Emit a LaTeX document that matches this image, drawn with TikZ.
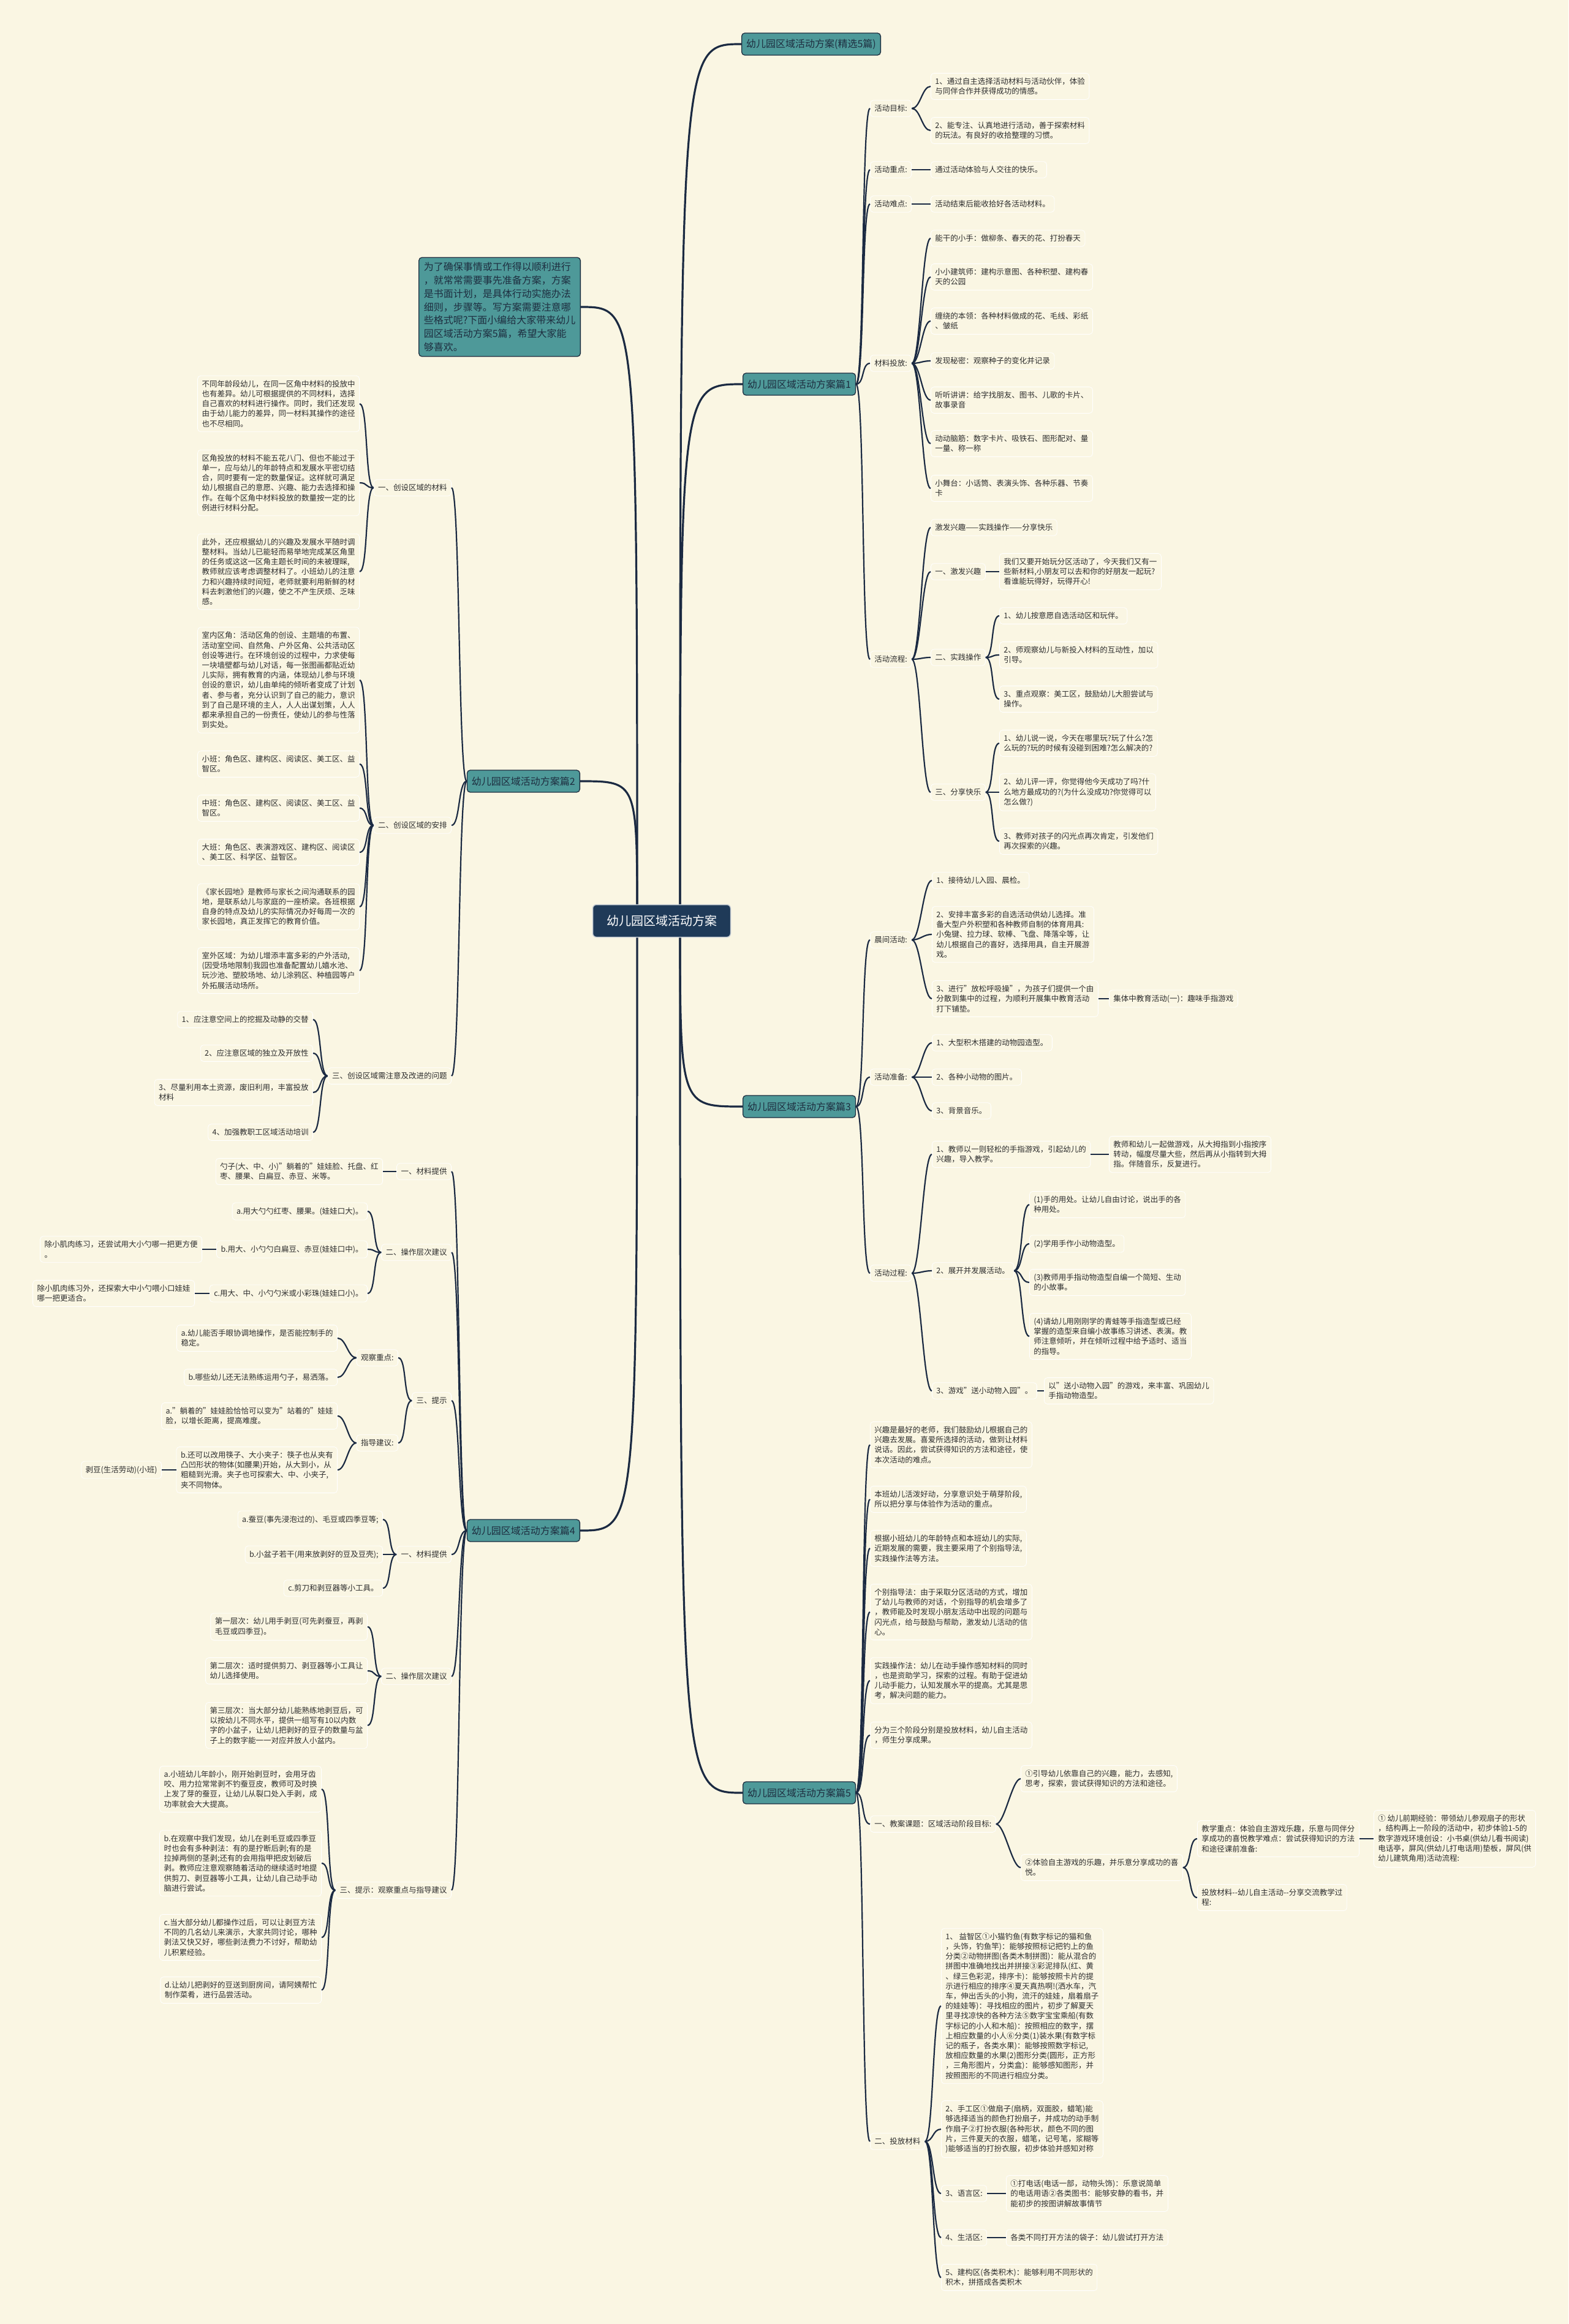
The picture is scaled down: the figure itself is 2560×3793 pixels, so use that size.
\documentclass[tikz,border=0pt]{standalone}
\usepackage{fontspec}
\setmainfont{Noto Sans CJK SC}
\usepackage{xcolor}
\usepackage{tikz}
\usetikzlibrary{backgrounds}
\definecolor{paper}{RGB}{250,246,227}
\definecolor{tealfill}{RGB}{78,153,153}
\definecolor{tealline}{RGB}{30,46,64}
\definecolor{rootfill}{RGB}{31,58,88}
\definecolor{linkc}{RGB}{27,42,66}
\definecolor{inkc}{RGB}{45,45,45}
\tikzset{every node/.append style={font=\fontsize{12.5}{16.2}\selectfont, text=inkc}}
\tikzset{
  leaf/.style={draw=white, line width=0.8pt, fill=paper, rounded corners=5pt, inner xsep=7pt, inner ysep=7.5pt, align=left},
  leafr/.style={leaf, anchor=west},
  leafl/.style={leaf, anchor=east},
  branch/.style={draw=tealline, line width=1.3pt, fill=tealfill, rounded corners=5pt, inner xsep=7.5pt, minimum height=36pt, text=tealline, font=\fontsize{16}{20}\selectfont},
  link/.style={draw=linkc, line width=2.2pt},
  rootlink/.style={draw=linkc, line width=3.2pt},
}

\begin{document}
\begin{tikzpicture}[x=1pt, y=-1pt]
    \useasboundingbox (0,0) rectangle (2560,3793);

    % root
    \node[fill=rootfill, draw=white!75!rootfill, line width=1.5pt, rounded corners=6pt, text=white,
          font=\fontsize{20}{24}\selectfont, minimum width=225pt, minimum height=53pt] (cen) at (1080,1503) {幼儿园区域活动方案};
    \coordinate (cenR) at ([xshift=30pt]cen.center);
    \coordinate (cenL) at ([xshift=-40pt]cen.center);

    % intro
    \node[branch, anchor=east, align=left, inner sep=8pt, font=\fontsize{16}{21.8}\selectfont] (intro) at (948,501)
        {为了确保事情或工作得以顺利进行\\，就常常需要事先准备方案，方案\\是书面计划，是具体行动实施办法\\细则，步骤等。写方案需要注意哪\\些格式呢?下面小编给大家带来幼儿\\园区域活动方案5篇，希望大家能\\够喜欢。};

    % right: 精选
    \node[branch, anchor=west] (p0) at (1210,72) {幼儿园区域活动方案(精选5篇)};

    % right: 篇1
    \node[branch, anchor=west] (p1) at (1212,627) {幼儿园区域活动方案篇1};
    \node[leafr] (p1a) at (1420,177) {活动目标:};
    \node[leafr] (p1a1) at (1519,141) {1、通过自主选择活动材料与活动伙伴，体验\\与同伴合作并获得成功的情感。};
    \node[leafr] (p1a2) at (1519,213) {2、能专注、认真地进行活动，善于探索材料\\的玩法。有良好的收拾整理的习惯。};
    \node[leafr] (p1b) at (1420,277) {活动重点:};
    \node[leafr] (p1b1) at (1519,277) {通过活动体验与人交往的快乐。};
    \node[leafr] (p1c) at (1420,333) {活动难点:};
    \node[leafr] (p1c1) at (1519,333) {活动结束后能收拾好各活动材料。};
    \node[leafr] (p1d) at (1420,593) {材料投放:};
    \node[leafr] (p1d1) at (1519,389) {能干的小手：做柳条、春天的花、打扮春天};
    \node[leafr] (p1d2) at (1519,452) {小小建筑师：建构示意图、各种积塑、建构春\\天的公园};
    \node[leafr] (p1d3) at (1519,524) {缠绕的本领：各种材料做成的花、毛线、彩纸\\、皱纸};
    \node[leafr] (p1d4) at (1519,589) {发现秘密：观察种子的变化并记录};
    \node[leafr] (p1d5) at (1519,653) {听听讲讲：给字找朋友、图书、儿歌的卡片、\\故事录音};
    \node[leafr] (p1d6) at (1519,724) {动动脑筋：数字卡片、吸铁石、图形配对、量\\一量、称一称};
    \node[leafr] (p1d7) at (1519,797) {小舞台：小话筒、表演头饰、各种乐器、节奏\\卡};
    \node[leafr] (p1e) at (1420,1076) {活动流程:};
    \node[leafr] (p1e1) at (1519,861) {激发兴趣——实践操作——分享快乐};
    \node[leafr] (p1e2) at (1519,933) {一、激发兴趣};
    \node[leafr] (p1e21) at (1631,933) {我们又要开始玩分区活动了，今天我们又有一\\些新材料,小朋友可以去和你的好朋友一起玩?\\看谁能玩得好，玩得开心!};
    \node[leafr] (p1e3) at (1519,1073) {二、实践操作};
    \node[leafr] (p1e31) at (1631,1005) {1、幼儿按意愿自选活动区和玩伴。};
    \node[leafr] (p1e32) at (1631,1069) {2、师观察幼儿与新投入材料的互动性，加以\\引导。};
    \node[leafr] (p1e33) at (1631,1141) {3、重点观察：美工区，鼓励幼儿大胆尝试与\\操作。};
    \node[leafr] (p1e4) at (1519,1293) {三、分享快乐};
    \node[leafr] (p1e41) at (1631,1213) {1、幼儿说一说，今天在哪里玩?玩了什么?怎\\么玩的?玩的时候有没碰到困难?怎么解决的?};
    \node[leafr] (p1e42) at (1631,1293) {2、幼儿评一评，你觉得他今天成功了吗?什\\么地方最成功的?(为什么没成功?你觉得可以\\怎么做?)};
    \node[leafr] (p1e43) at (1631,1373) {3、教师对孩子的闪光点再次肯定，引发他们\\再次探索的兴趣。};

    % right: 篇3
    \node[branch, anchor=west] (p3) at (1212,1806) {幼儿园区域活动方案篇3};
    \node[leafr] (p3a) at (1420,1534) {晨间活动:};
    \node[leafr] (p3a1) at (1521,1437) {1、接待幼儿入园、晨检。};
    \node[leafr] (p3a2) at (1521,1525) {2、安排丰富多彩的自选活动供幼儿选择。准\\备大型户外积塑和各种教师自制的体育用具:\\小兔键、拉力球、软棒、飞盘、降落伞等，让\\幼儿根据自己的喜好，选择用具，自主开展游\\戏。};
    \node[leafr] (p3a3) at (1521,1630) {3、进行"放松呼吸操"，为孩子们提供一个由\\分散到集中的过程，为顺利开展集中教育活动\\打下铺垫。};
    \node[leafr] (p3a31) at (1810,1630) {集体中教育活动(一)：趣味手指游戏};
    \node[leafr] (p3b) at (1420,1758) {活动准备:};
    \node[leafr] (p3b1) at (1521,1702) {1、大型积木搭建的动物园造型。};
    \node[leafr] (p3b2) at (1521,1758) {2、各种小动物的图片。};
    \node[leafr] (p3b3) at (1521,1813) {3、背景音乐。};
    \node[leafr] (p3c) at (1420,2078) {活动过程:};
    \node[leafr] (p3c1) at (1521,1884) {1、教师以一则轻松的手指游戏，引起幼儿的\\兴趣，导入教学。};
    \node[leafr] (p3c11) at (1810,1884) {教师和幼儿一起做游戏，从大拇指到小指按序\\转动，幅度尽量大些，然后再从小指转到大拇\\指。伴随音乐，反复进行。};
    \node[leafr] (p3c2) at (1521,2074) {2、展开并发展活动。};
    \node[leafr] (p3c21) at (1680,1966) {(1)手的用处。让幼儿自由讨论，说出手的各\\种用处。};
    \node[leafr] (p3c22) at (1680,2030) {(2)学用手作小动物造型。};
    \node[leafr] (p3c23) at (1680,2093) {(3)教师用手指动物造型自编一个简短、生动\\的小故事。};
    \node[leafr] (p3c24) at (1680,2181) {(4)请幼儿用刚刚学的青蛙等手指造型或已经\\掌握的造型来自编小故事练习讲述、表演。教\\师注意倾听，并在倾听过程中给予适时、适当\\的指导。};
    \node[leafr] (p3c3) at (1521,2270) {3、游戏"送小动物入园"。};
    \node[leafr] (p3c31) at (1704,2270) {以"送小动物入园"的游戏，来丰富、巩固幼儿\\手指动物造型。};

    % right: 篇5
    \node[branch, anchor=west] (p5) at (1212,2926) {幼儿园区域活动方案篇5};
    \node[leafr] (p5a) at (1420,2358) {兴趣是最好的老师，我们鼓励幼儿根据自己的\\兴趣去发展。喜爱所选择的活动，做到让材料\\说话。因此，尝试获得知识的方法和途径，使\\本次活动的难点。};
    \node[leafr] (p5b) at (1420,2447) {本班幼儿活泼好动，分享意识处于萌芽阶段,\\所以把分享与体验作为活动的重点。};
    \node[leafr] (p5c) at (1420,2527) {根据小班幼儿的年龄特点和本班幼儿的实际,\\近期发展的需要，我主要采用了个别指导法,\\实践操作法等方法。};
    \node[leafr] (p5d) at (1420,2631) {个别指导法：由于采取分区活动的方式，增加\\了幼儿与教师的对话，个别指导的机会增多了\\，教师能及时发现小朋友活动中出现的问题与\\闪光点，给与鼓励与帮助，激发幼儿活动的信\\心。};
    \node[leafr] (p5e) at (1420,2743) {实践操作法：幼儿在动手操作感知材料的同时\\，也是资助学习，探索的过程。有助于促进幼\\儿动手能力，认知发展水平的提高。尤其是思\\考，解决问题的能力。};
    \node[leafr] (p5f) at (1420,2832) {分为三个阶段分别是投放材料，幼儿自主活动\\，师生分享成果。};
    \node[leafr] (p5g) at (1420,2977) {一、教案课题：区域活动阶段目标:};
    \node[leafr] (p5g1) at (1666,2903) {①引导幼儿依靠自己的兴趣，能力，去感知,\\思考，探索，尝试获得知识的方法和途径。};
    \node[leafr] (p5g2) at (1666,3048) {②体验自主游戏的乐趣，并乐意分享成功的喜\\悦。};
    \node[leafr] (p5g21) at (1954,3001) {教学重点：体验自主游戏乐趣，乐意与同伴分\\享成功的喜悦教学难点：尝试获得知识的方法\\和途径课前准备:};
    \node[leafr] (p5g211) at (2242,3001) {① 幼儿前期经验：带领幼儿参观扇子的形状\\，结构再上一阶段的活动中，初步体验1-5的\\数字游戏环境创设：小书桌(供幼儿看书阅读)\\电话亭，屏风(供幼儿打电话用)垫板，屏风(供\\幼儿建筑角用)活动流程:};
    \node[leafr] (p5g22) at (1954,3097) {投放材料-{}-幼儿自主活动-{}-分享交流教学过\\程:};
    \node[leafr] (p5h) at (1420,3495) {二、投放材料};
    \node[leafr] (p5h1) at (1536,3274) {1、 益智区①小猫钓鱼(有数字标记的猫和鱼\\，头饰，钓鱼竿)：能够按照标记把钓上的鱼\\分类②动物拼图(各类木制拼图)：能从混合的\\拼图中准确地找出并拼接③彩泥排队(红、黄\\、绿三色彩泥，排序卡)：能够按照卡片的提\\示进行相应的排序④夏天真热啊!(洒水车，汽\\车，伸出舌头的小狗，流汗的娃娃，扇着扇子\\的娃娃等)：寻找相应的图片，初步了解夏天\\里寻找凉快的各种方法⑤数字宝宝乘船(有数\\字标记的小人和木船)：按照相应的数字，摆\\上相应数量的小人⑥分类(1)装水果(有数字标\\记的瓶子，各类水果)：能够按照数字标记,\\放相应数量的水果(2)图形分类(圆形，正方形\\，三角形图片，分类盒)：能够感知图形，并\\按照图形的不同进行相应分类。};
    \node[leafr] (p5h2) at (1536,3475) {2、手工区①做扇子(扇柄，双面胶，蜡笔)能\\够选择适当的颜色打扮扇子，并成功的动手制\\作扇子②打扮衣服(各种形状，颜色不同的图\\片，三件夏天的衣服，蜡笔，记号笔，浆糊等\\)能够适当的打扮衣服，初步体验并感知对称};
    \node[leafr] (p5h3) at (1536,3580) {3、语言区:};
    \node[leafr] (p5h31) at (1642,3580) {①打电话(电话一部，动物头饰)：乐意说简单\\的电话用语②各类图书：能够安静的看书，并\\能初步的按图讲解故事情节};
    \node[leafr] (p5h4) at (1536,3652) {4、生活区:};
    \node[leafr] (p5h41) at (1642,3652) {各类不同打开方法的袋子：幼儿尝试打开方法};
    \node[leafr] (p5h5) at (1536,3717) {5、建构区(各类积木)：能够利用不同形状的\\积木，拼搭成各类积木};

    % left: 篇2
    \node[branch, anchor=east] (p2) at (947,1275) {幼儿园区域活动方案篇2};
    \node[leafl] (p2a) at (737,796) {一、创设区域的材料};
    \node[leafl] (p2a1) at (587,659) {不同年龄段幼儿，在同一区角中材料的投放中\\也有差异。幼儿可根据提供的不同材料，选择\\自己喜欢的材料进行操作。同时，我们还发现\\由于幼儿能力的差异，同一材料其操作的途径\\也不尽相同。};
    \node[leafl] (p2a2) at (587,788) {区角投放的材料不能五花八门、但也不能过于\\单一，应与幼儿的年龄特点和发展水平密切结\\合，同时要有一定的数量保证。这样就可满足\\幼儿根据自己的意愿、兴趣、能力去选择和操\\作。在每个区角中材料投放的数量按一定的比\\例进行材料分配。};
    \node[leafl] (p2a3) at (587,933) {此外，还应根据幼儿的兴趣及发展水平随时调\\整材料。当幼儿已能轻而易举地完成某区角里\\的任务或这这一区角主题长时间的未被理睬,\\教师就应该考虑调整材料了。小班幼儿的注意\\力和兴趣持续时间短，老师就要利用新鲜的材\\料去刺激他们的兴趣，使之不产生厌烦、乏味\\感。};
    \node[leafl] (p2b) at (737,1347) {二、创设区域的安排};
    \node[leafl] (p2b1) at (587,1110) {室内区角：活动区角的创设、主题墙的布置、\\活动室空间、自然角、户外区角、公共活动区\\创设等进行。在环境创设的过程中，力求使每\\一块墙壁都与幼儿对话，每一张图画都贴近幼\\儿实际，拥有教育的内涵，体现幼儿参与环境\\创设的意识，幼儿由单纯的倾听者变成了计划\\者、参与者，充分认识到了自己的能力，意识\\到了自己是环境的主人，人人出谋划策，人人\\都来承担自己的一份责任，使幼儿的参与性落\\到实处。};
    \node[leafl] (p2b2) at (587,1247) {小班：角色区、建构区、阅读区、美工区、益\\智区。};
    \node[leafl] (p2b3) at (587,1319) {中班：角色区、建构区、阅读区、美工区、益\\智区。};
    \node[leafl] (p2b4) at (587,1391) {大班：角色区、表演游戏区、建构区、阅读区\\、美工区、科学区、益智区。};
    \node[leafl] (p2b5) at (587,1480) {《家长园地》是教师与家长之间沟通联系的园\\地，是联系幼儿与家庭的一座桥梁。各班根据\\自身的特点及幼儿的实际情况办好每周一次的\\家长园地，真正发挥它的教育价值。};
    \node[leafl] (p2b6) at (587,1584) {室外区域：为幼儿增添丰富多彩的户外活动,\\(因受场地限制)我园也准备配置幼儿嬉水池、\\玩沙池、塑胶场地、幼儿涂鸦区、种植园等户\\外拓展活动场所。};
    \node[leafl] (p2c) at (737,1756) {三、创设区域需注意及改进的问题};
    \node[leafl] (p2c1) at (511,1664) {1、应注意空间上的挖掘及动静的交替};
    \node[leafl] (p2c2) at (511,1719) {2、应注意区域的独立及开放性};
    \node[leafl] (p2c3) at (511,1783) {3、尽量利用本土资源，废旧利用，丰富投放\\材料};
    \node[leafl] (p2c4) at (511,1848) {4、加强教职工区域活动培训};

    % left: 篇4
    \node[branch, anchor=east] (p4) at (947,2498) {幼儿园区域活动方案篇4};
    \node[leafl] (p4a) at (737,1912) {一、材料提供};
    \node[leafl] (p4a1) at (625,1912) {勺子(大、中、小)"躺着的"娃娃脸、托盘、红\\枣、腰果、白扁豆、赤豆、米等。};
    \node[leafl] (p4b) at (737,2044) {二、操作层次建议};
    \node[leafl] (p4b1) at (600,1977) {a.用大勺勺红枣、腰果。(娃娃口大)。};
    \node[leafl] (p4b2) at (600,2039) {b.用大、小勺勺白扁豆、赤豆(娃娃口中)。};
    \node[leafl] (p4b21) at (330,2039) {除小肌肉练习，还尝试用大小勺哪一把更方便\\。};
    \node[leafl] (p4b3) at (600,2111) {c.用大、中、小勺勺米或小彩珠(娃娃口小)。};
    \node[leafl] (p4b31) at (318,2111) {除小肌肉练习外，还探索大中小勺喂小口娃娃\\哪一把更适合。};
    \node[leafl] (p4c) at (737,2286) {三、提示};
    \node[leafl] (p4c1) at (650,2216) {观察重点:};
    \node[leafl] (p4c11) at (551,2184) {a.幼儿能否手眼协调地操作，是否能控制手的\\稳定。};
    \node[leafl] (p4c12) at (551,2248) {b.哪些幼儿还无法熟练运用勺子，易洒落。};
    \node[leafl] (p4c2) at (650,2355) {指导建议:};
    \node[leafl] (p4c21) at (551,2311) {a."躺着的"娃娃脸恰恰可以变为"站着的"娃娃\\脸，以增长距离，提高难度。};
    \node[leafl] (p4c22) at (551,2399) {b.还可以改用筷子、大小夹子：筷子也从夹有\\凸凹形状的物体(如腰果)开始，从大到小，从\\粗糙到光滑。夹子也可探索大、中、小夹子,\\夹不同物体。};
    \node[leafl] (p4c221) at (264,2399) {剥豆(生活劳动)(小班)};
    \node[leafl] (p4d) at (737,2537) {一、材料提供};
    \node[leafl] (p4d1) at (625,2480) {a.蚕豆(事先浸泡过的)、毛豆或四季豆等;};
    \node[leafl] (p4d2) at (625,2537) {b.小盆子若干(用来放剥好的豆及豆壳);};
    \node[leafl] (p4d3) at (625,2592) {c.剪刀和剥豆器等小工具。};
    \node[leafl] (p4e) at (737,2736) {二、操作层次建议};
    \node[leafl] (p4e1) at (600,2655) {第一层次：幼儿用手剥豆(可先剥蚕豆，再剥\\毛豆或四季豆)。};
    \node[leafl] (p4e2) at (600,2727) {第二层次：适时提供剪刀、剥豆器等小工具让\\幼儿选择使用。};
    \node[leafl] (p4e3) at (600,2816) {第三层次：当大部分幼儿能熟练地剥豆后，可\\以按幼儿不同水平，提供一组写有10以内数\\字的小盆子，让幼儿把剥好的豆子的数量与盆\\子上的数字能一一对应并放人小盆内。};
    \node[leafl] (p4f) at (737,3085) {三、提示：观察重点与指导建议};
    \node[leafl] (p4f1) at (525,2920) {a.小班幼儿年龄小，刚开始剥豆时，会用牙齿\\咬、用力拉常常剥不钓蚕豆皮，教师可及时换\\上发了芽的蚕豆，让幼儿从裂口处入手剥，成\\功率就会大大提高。};
    \node[leafl] (p4f2) at (525,3041) {b.在观察中我们发现，幼儿在剥毛豆或四季豆\\时也会有多种剥法：有的是拧断后剥;有的是\\拉掉两侧的茎剥;还有的会用指甲把皮划破后\\剥。教师应注意观察随着活动的继续适时地提\\供剪刀、剥豆器等小工具，让幼儿自己动手动\\脑进行尝试。};
    \node[leafl] (p4f3) at (525,3162) {c.当大部分幼儿都操作过后，可以让剥豆方法\\不同的几名幼儿来演示，大家共同讨论，哪种\\剥法又快又好，哪些剥法费力不讨好，帮助幼\\儿积累经验。};
    \node[leafl] (p4f4) at (525,3248) {d.让幼儿把剥好的豆送到厨房间，请阿姨帮忙\\制作菜肴，进行品尝活动。};

    % links, right side
    \foreach \a/\b in {p1/p1a, p1/p1b, p1/p1c, p1/p1d, p1/p1e, p1a/p1a1, p1a/p1a2, p1b/p1b1, p1c/p1c1,
                       p1d/p1d1, p1d/p1d2, p1d/p1d3, p1d/p1d4, p1d/p1d5, p1d/p1d6, p1d/p1d7,
                       p1e/p1e1, p1e/p1e2, p1e/p1e3, p1e/p1e4, p1e2/p1e21, p1e3/p1e31, p1e3/p1e32, p1e3/p1e33,
                       p1e4/p1e41, p1e4/p1e42, p1e4/p1e43,
                       p3/p3a, p3/p3b, p3/p3c, p3a/p3a1, p3a/p3a2, p3a/p3a3, p3a3/p3a31,
                       p3b/p3b1, p3b/p3b2, p3b/p3b3, p3c/p3c1, p3c1/p3c11, p3c/p3c2, p3c/p3c3,
                       p3c2/p3c21, p3c2/p3c22, p3c2/p3c23, p3c2/p3c24, p3c3/p3c31,
                       p5/p5a, p5/p5b, p5/p5c, p5/p5d, p5/p5e, p5/p5f, p5/p5g, p5/p5h,
                       p5g/p5g1, p5g/p5g2, p5g2/p5g21, p5g21/p5g211, p5g2/p5g22,
                       p5h/p5h1, p5h/p5h2, p5h/p5h3, p5h/p5h4, p5h/p5h5, p5h3/p5h31, p5h4/p5h41}
        \draw[link] (\a.east) .. controls +(14,0) and +(-14,0) .. (\b.west);

    % links, left side
    \foreach \a/\b in {p2/p2a, p2/p2b, p2/p2c, p2a/p2a1, p2a/p2a2, p2a/p2a3,
                       p2b/p2b1, p2b/p2b2, p2b/p2b3, p2b/p2b4, p2b/p2b5, p2b/p2b6,
                       p2c/p2c1, p2c/p2c2, p2c/p2c3, p2c/p2c4,
                       p4/p4a, p4/p4b, p4/p4c, p4/p4d, p4/p4e, p4/p4f,
                       p4a/p4a1, p4b/p4b1, p4b/p4b2, p4b/p4b3, p4b2/p4b21, p4b3/p4b31,
                       p4c/p4c1, p4c/p4c2, p4c1/p4c11, p4c1/p4c12, p4c2/p4c21, p4c2/p4c22, p4c22/p4c221,
                       p4d/p4d1, p4d/p4d2, p4d/p4d3, p4e/p4e1, p4e/p4e2, p4e/p4e3,
                       p4f/p4f1, p4f/p4f2, p4f/p4f3, p4f/p4f4}
        \draw[link] (\a.west) .. controls +(-14,0) and +(14,0) .. (\b.east);

    % root links under the nodes
    \begin{scope}[on background layer]
        \fill[paper] (0,0) rectangle (2560,3793);
        \foreach \b in {p0, p1, p3, p5}
            \draw[rootlink] (cenR) .. controls (cenR |- \b.west) .. (\b.west);
        \foreach \b in {intro, p2, p4}
            \draw[rootlink] (cenL) .. controls (cenL |- \b.east) .. (\b.east);
    \end{scope}
\end{tikzpicture}
\end{document}
